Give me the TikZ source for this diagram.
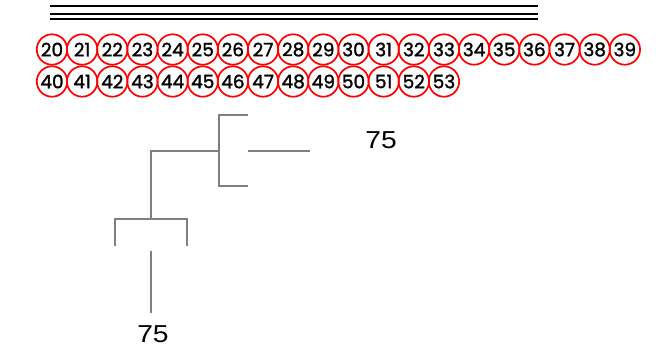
\documentclass[tikz,border=0pt]{standalone}
\usepackage{fontspec}
\usepackage{graphicx}
\newfontfamily\circfont{Poppins}[FakeBold=1.5]
\newfontfamily\labfont{Liberation Sans}
\newcommand{\widelab}[1]{\scalebox{1.15}[1]{#1}}
\begin{document}
\begin{tikzpicture}[x=1pt,y=-1pt,
  topline/.style={line width=2pt,black},
  numcirc/.style={circle,draw=red,line width=1.7pt,minimum size=30.4pt,inner sep=0pt,font=\circfont\fontsize{18.5}{19}\selectfont,text=black},
  branch/.style={line width=2pt,draw={rgb,255:red,128;green,128;blue,128}},
  lab/.style={font=\labfont\fontsize{24.5}{26}\selectfont,inner sep=0pt}
]
\useasboundingbox (0,0) rectangle (658,346);
% top lines
\coordinate (l1a) at (50,5.5);  \coordinate (l1b) at (538,5.5);
\coordinate (l2a) at (50,14.3); \coordinate (l2b) at (538,14.3);
\coordinate (l3a) at (50,18.8); \coordinate (l3b) at (538,18.8);
\draw[topline] (l1a) -- (l1b);
\draw[topline] (l2a) -- (l2b);
\draw[topline] (l3a) -- (l3b);
% circles row 1
\foreach \n [count=\i from 0] in {20,...,39}
  \node[numcirc] (c\n) at ({52+30.15*\i},49.5) {\n};
% circles row 2
\foreach \n [count=\i from 0] in {40,...,53}
  \node[numcirc] (c\n) at ({52+30.15*\i},81.5) {\n};
% tree
\coordinate (ta) at (247.5,115);
\coordinate (tb) at (219.3,115);
\coordinate (tc) at (219.3,186);
\coordinate (td) at (247.5,186);
\coordinate (tm) at (219.3,150.5);
\coordinate (me) at (247.5,150.5);
\coordinate (mf) at (309.5,150.5);
\coordinate (ra) at (151,150.5);
\coordinate (rb) at (151,219);
\coordinate (ba) at (115,246);
\coordinate (bb) at (115,219);
\coordinate (bc) at (187,219);
\coordinate (bd) at (187,246);
\coordinate (va) at (151,250.7);
\coordinate (vb) at (151,312.7);
\draw[branch] (ta) -- (tb) -- (tc) -- (td);
\draw[branch] (me) -- (mf);
\draw[branch] (tm) -- (ra) -- (rb);
\draw[branch] (ba) -- (bb) -- (bc) -- (bd);
\draw[branch] (va) -- (vb);
\node[lab] (labA) at (381,140) {\widelab{75}};
\node[lab] (labB) at (153,334) {\widelab{75}};
\end{tikzpicture}
\end{document}
